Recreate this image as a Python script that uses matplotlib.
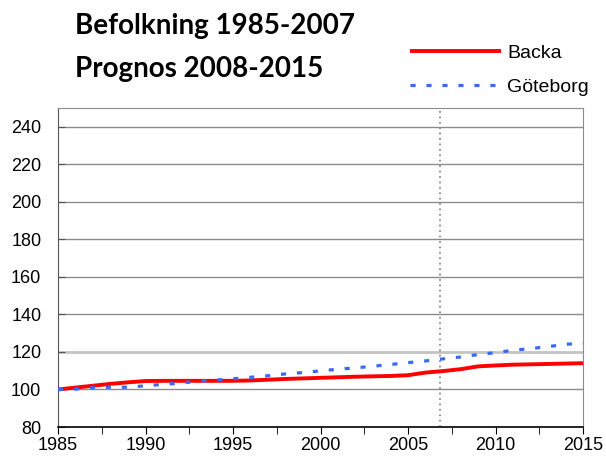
import numpy as np
import matplotlib.pyplot as plt
from matplotlib.ticker import MultipleLocator

years = list(range(1985, 2016))
backa = [100, 101, 102, 103, 103.8, 104.5, 104.6, 104.6, 104.6, 104.6,
         104.6, 104.8, 105.2, 105.6, 105.9, 106.2, 106.5, 106.8, 107.0, 107.2,
         107.6, 109.0, 109.8, 110.8, 112.3, 112.8, 113.2, 113.4, 113.6, 113.8,
         114.0]
goteborg = [100, 100.2, 100.9, 101.2, 101.2, 102.0, 102.7, 103.4, 104.4, 105.0,
            105.7, 106.5, 107.3, 108.3, 109.0, 109.9, 110.8, 111.5, 112.4, 113.3,
            114.3, 115.2, 116.3, 117.3, 118.6, 119.6, 120.9, 121.8, 122.8, 124.1,
            124.6]
prognos_start = 2006.8

plt.rcParams['font.family'] = ['Liberation Sans', 'DejaVu Sans']

fig = plt.figure(figsize=(6.06, 4.59), dpi=100)
ax = fig.add_axes([58 / 606, 32 / 459, (583 - 58) / 606, (427 - 108) / 459])

ax.set_xlim(1985, 2015)
ax.set_ylim(80, 250)
ax.set_yticks(range(80, 241, 20))
ax.xaxis.set_major_locator(MultipleLocator(5))
ax.xaxis.set_minor_locator(MultipleLocator(2.5))

for v in range(100, 241, 20):
    if v == 120:
        ax.axhline(v, color='#c4c4c4', lw=2, zorder=1)
    else:
        ax.axhline(v, color='#8c8c8c', lw=1, zorder=1)

ax.axvline(prognos_start, color='#8c8c8c', lw=1.3, ls=(0, (1, 2)), zorder=1)

ax.plot(years, backa, color='#ff0000', lw=2.8, label='Backa', zorder=3,
        solid_capstyle='butt')
ax.plot(years, goteborg, color='#3a6af2', lw=2.3, dashes=(1.6, 3.4),
        label='Göteborg', zorder=4)

for side in ['top', 'right']:
    ax.spines[side].set_color('#8c8c8c')
ax.spines['left'].set_color('#555555')
ax.spines['bottom'].set_color('#000000')
ax.spines['bottom'].set_linewidth(1.2)

ax.tick_params(axis='x', which='both', direction='out', length=5, labelsize=13,
               color='#000000', pad=2)
ax.tick_params(axis='x', which='minor', labelbottom=False)
ax.tick_params(axis='y', direction='in', length=5, labelsize=13, pad=12,
               color='#555555')

fig.text(75 / 606, 1 - 26 / 459, 'Befolkning 1985-2007', fontsize=20,
         fontweight='bold', family=['Lato', 'DejaVu Sans'], va='center')
fig.text(75 / 606, 1 - 69 / 459, 'Prognos 2008-2015', fontsize=20,
         fontweight='bold', family=['Lato', 'DejaVu Sans'], va='center')

fig.legend(loc='upper left', bbox_to_anchor=(410 / 606, 1 - 44 / 459),
           frameon=False, fontsize=14, handlelength=4.7, handletextpad=0.3,
           labelspacing=0.87, borderpad=0, borderaxespad=0)

fig.savefig('out.png', dpi=100)
